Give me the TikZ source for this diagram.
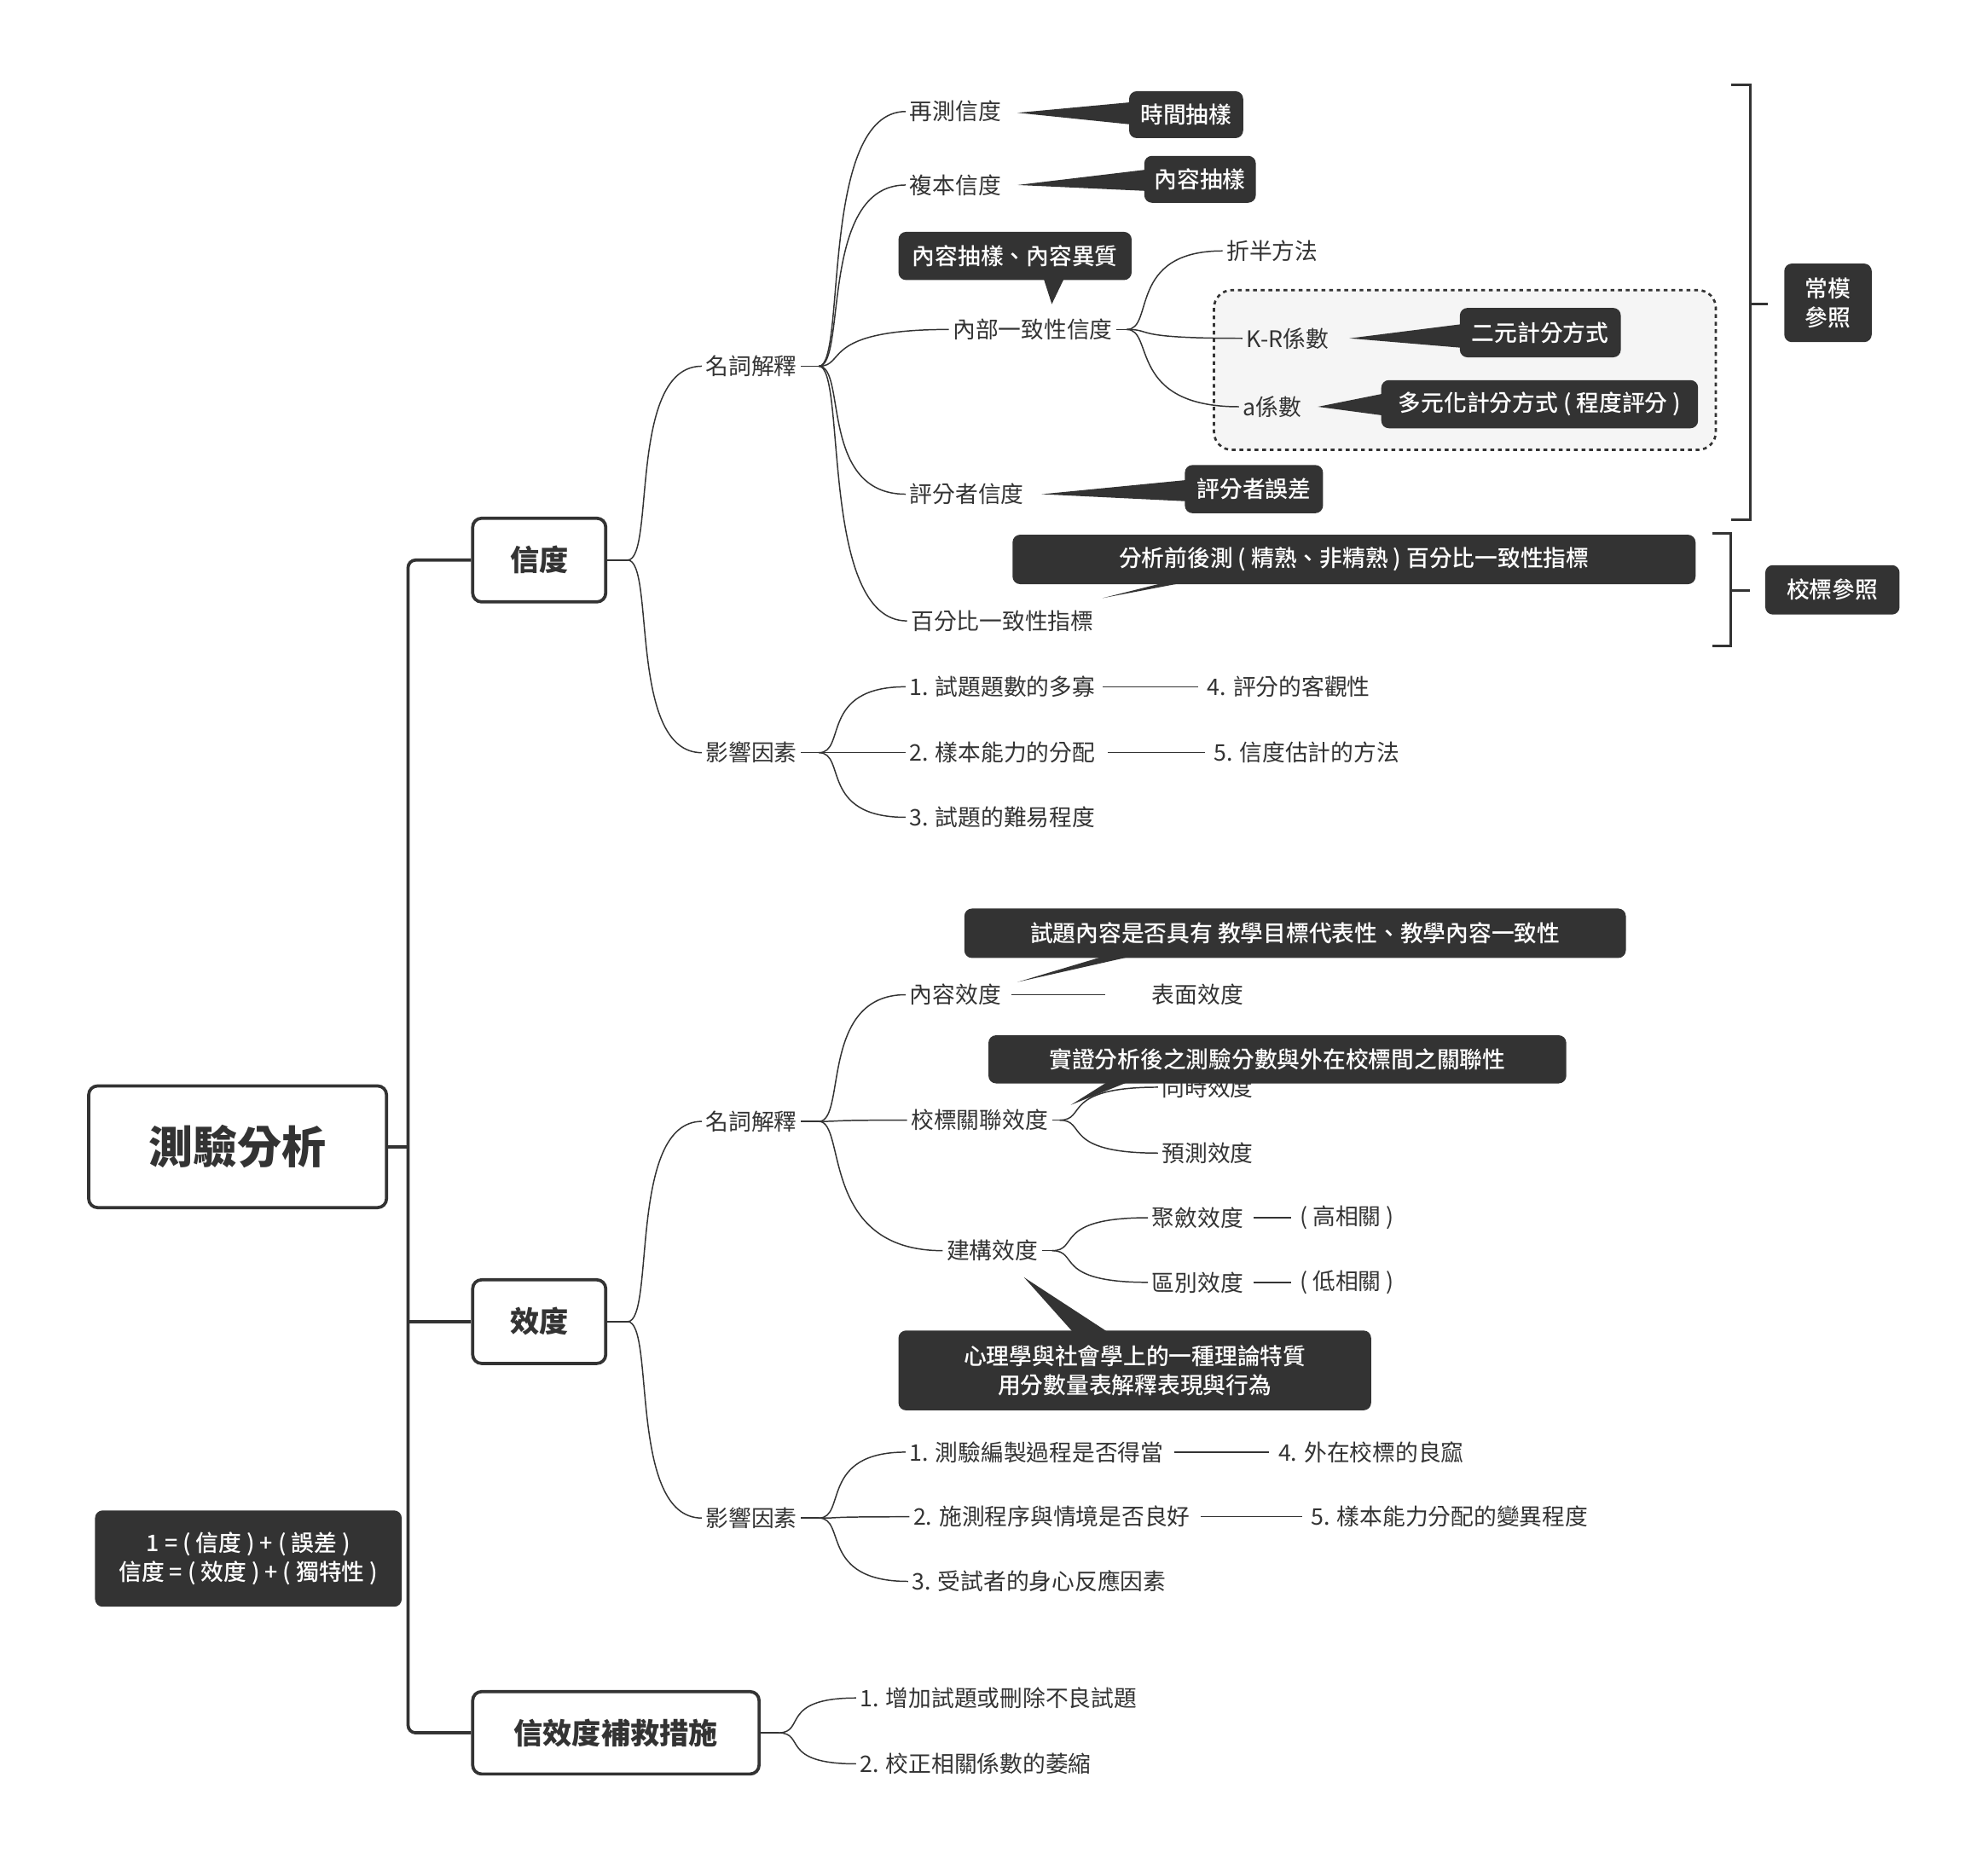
\documentclass[tikz,border=0pt]{standalone}
\usepackage{fontspec}
\setmainfont{Noto Sans CJK TC}
\newfontfamily\medfont{Noto Sans CJK TC Medium}
\usetikzlibrary{calc}
\definecolor{dk}{HTML}{333333}
\tikzset{
 x=1pt,y=-1pt,
 lbl/.style={font=\fontsize{18}{21}\selectfont,text=dk,inner xsep=3pt,anchor=center},
 tag/.style={fill=dk,text=white,rounded corners=6pt,font=\fontsize{18}{23}\selectfont\medfont,align=center,inner sep=0pt},
 main/.style={draw=dk,line width=2.5pt,rounded corners=7pt,font=\fontsize{23}{26}\selectfont\bfseries,text=dk,inner sep=0pt},
 con/.style={draw=dk,line width=1pt},
 trunk/.style={draw=dk,line width=2.5pt,rounded corners=6pt},
}
\newcommand{\cv}[2]{\draw[con] (#1) .. controls ($(#1)+(22,0)$) and ($(#1 |- #2)+(0,0)$) .. (#2);}
\newcommand{\tagbox}[6]{\node[tag,minimum width=#4-#2,minimum height=#5-#3] (#1) at ({(#2+#4)/2},{(#3+#5)/2}) {#6};}
\begin{document}
\begin{tikzpicture}
\useasboundingbox (0,0) rectangle (1568,1480);
% main nodes
\node[main,minimum width=235,minimum height=96,font=\fontsize{35}{40}\selectfont\bfseries] (root) at (187.5,905) {測驗分析};
\node[main,minimum width=105,minimum height=66] (xd) at (425.5,442) {信度};
\node[main,minimum width=105,minimum height=66] (vd) at (425.5,1043) {效度};
\node[main,minimum width=226,minimum height=65] (rm) at (486,1367.5) {信效度補救措施};
\draw[trunk] (root.east) -- (322,905);
\draw[trunk] (xd.west) -- (322,442) -- (322,1367.5) -- (rm.west);
\draw[trunk] (322,1043) -- (vd.west);
\tagbox{note}{75}{1192}{317}{1268}{1 = ( 信度 ) + ( 誤差 )\\信度 = ( 效度 ) + ( 獨特性 )}

% 信度
\node[lbl] (x1) at (593,289) {名詞解釋};
\node[lbl] (x2) at (593,594) {影響因素};
\coordinate (xs) at ($(xd.east)+(16,0)$);
\draw[con] (xd.east) -- (xs);
\cv{xs}{x1.west} \cv{xs}{x2.west}
\node[lbl] (a1) at (754,88) {再測信度};
\node[lbl] (a2) at (754,146) {複本信度};
\node[lbl] (a3) at (815,260) {內部一致性信度};
\node[lbl] (a4) at (763,390) {評分者信度};
\node[lbl] (a5) at (791,490) {百分比一致性指標};
\coordinate (x1s) at ($(x1.east)+(14,0)$);
\draw[con] (x1.east) -- (x1s);
\foreach \n in {a1,a2,a3,a4,a5}{\cv{x1s}{\n.west}}
\fill[dk] (803,89) -- (900,80) -- (900,99) -- cycle;
\tagbox{t1}{891}{72}{981}{109}{時間抽樣}
\fill[dk] (803,146) -- (912,133) -- (912,151) -- cycle;
\tagbox{t2}{903}{123}{991}{160}{內容抽樣}
\fill[dk] (822,215) -- (830,240) -- (842,215) -- cycle;
\tagbox{t3}{709}{183}{893}{221}{內容抽樣、內容異質}
\fill[dk] (822,390) -- (945,378) -- (945,396) -- cycle;
\tagbox{t4}{935}{367}{1044}{405}{評分者誤差}
\fill[dk] (870,472) -- (950,452) -- (975,452) -- cycle;
\tagbox{t5}{799}{422}{1338}{461}{分析前後測 ( 精熟、非精熟 ) 百分比一致性指標}
% 內部一致性 children
\draw[dk,line width=1.8pt,dashed,fill=black!4,rounded corners=14pt] (958,229) rectangle (1354,355);
\node[lbl] (b1) at (1004,198) {折半方法};
\node[lbl] (b2) at (1016,267) {K-R係數};
\node[lbl] (b3) at (1004,321) {a係數};
\coordinate (a3s) at ($(a3.east)+(8,0)$);
\draw[con] (a3.east) -- (a3s);
\foreach \n in {b1,b2,b3}{\cv{a3s}{\n.west}}
\fill[dk] (1065,267) -- (1160,255) -- (1160,275) -- cycle;
\tagbox{t6}{1152}{243}{1279}{282}{二元計分方式}
\fill[dk] (1040,321) -- (1100,309) -- (1100,329) -- cycle;
\tagbox{t7}{1090}{300}{1340}{338}{多元化計分方式 ( 程度評分 )}
% brackets
\draw[dk,line width=2pt] (1366,67) -- (1381,67) -- (1381,410) -- (1366,410) (1381,240) -- (1395,240);
\tagbox{t8}{1408}{208}{1477}{270}{常模\\參照}
\draw[dk,line width=2pt] (1351,421) -- (1366,421) -- (1366,510) -- (1351,510) (1366,466) -- (1381,466);
\tagbox{t9}{1393}{446}{1499}{485}{校標參照}
% 影響因素 信度
\node[lbl] (c1) at (791,542) {1. 試題題數的多寡};
\node[lbl] (c2) at (791,594) {2. 樣本能力的分配};
\node[lbl] (c3) at (791,645) {3. 試題的難易程度};
\coordinate (x2s) at ($(x2.east)+(14,0)$);
\draw[con] (x2.east) -- (x2s);
\foreach \n in {c1,c2,c3}{\cv{x2s}{\n.west}}
\node[lbl] (c4) at (1017,542) {4. 評分的客觀性};
\node[lbl] (c5) at (1031,594) {5. 信度估計的方法};
\draw[con] ($(c1.east)+(3,0)$) -- ($(c4.west)+(-4,0)$);
\draw[con] ($(c2.east)+(7,0)$) -- ($(c5.west)+(-4,0)$);

% 效度
\node[lbl] (y1) at (593,885) {名詞解釋};
\node[lbl] (y2) at (593,1198) {影響因素};
\coordinate (ys) at ($(vd.east)+(16,0)$);
\draw[con] (vd.east) -- (ys);
\cv{ys}{y1.west} \cv{ys}{y2.west}
\node[lbl] (d1) at (754,785) {內容效度};
\node[lbl] (d2) at (773,884) {校標關聯效度};
\node[lbl] (d3) at (783,987) {建構效度};
\coordinate (y1s) at ($(y1.east)+(14,0)$);
\draw[con] (y1.east) -- (y1s);
\foreach \n in {d1,d2,d3}{\cv{y1s}{\n.west}}
\node[lbl] (e1) at (945,785) {表面效度};
\draw[con] ($(d1.east)+(5,0)$) -- (872,785);
\fill[dk] (803,775) -- (880,752) -- (905,752) -- cycle;
\tagbox{t10}{761}{717}{1283}{756}{試題內容是否具有 教學目標代表性、教學內容一致性}
\node[lbl] (e2) at (953,858) {同時效度};
\node[lbl] (e3) at (953,910) {預測效度};
\coordinate (d2s) at ($(d2.east)+(6,0)$);
\draw[con] (d2.east) -- (d2s);
\cv{d2s}{e2.west} \cv{d2s}{e3.west}
\fill[dk] (845,872) -- (880,850) -- (900,850) -- cycle;
\tagbox{t11}{780}{817}{1236}{855}{實證分析後之測驗分數與外在校標間之關聯性}
\node[lbl] (e4) at (945,961) {聚斂效度};
\node[lbl] (e5) at (945,1012) {區別效度};
\coordinate (d3s) at ($(d3.east)+(8,0)$);
\draw[con] (d3.east) -- (d3s);
\cv{d3s}{e4.west} \cv{d3s}{e5.west}
\node[lbl] (f1) at (1063,961) {( 高相關 )};
\node[lbl] (f2) at (1063,1012) {( 低相關 )};
\draw[con] ($(e4.east)+(5,0)$) -- ($(f1.west)+(-4,0)$);
\draw[con] ($(e5.east)+(5,0)$) -- ($(f2.west)+(-4,0)$);
\fill[dk] (808,1008) -- (850,1055) -- (880,1055) -- cycle;
\tagbox{t12}{709}{1050}{1082}{1113}{心理學與社會學上的一種理論特質\\用分數量表解釋表現與行為}
% 影響因素 效度
\node[lbl] (g1) at (818,1146) {1. 測驗編製過程是否得當};
\node[lbl] (g2) at (830,1197) {2. 施測程序與情境是否良好};
\node[lbl] (g3) at (820,1248) {3. 受試者的身心反應因素};
\coordinate (y2s) at ($(y2.east)+(14,0)$);
\draw[con] (y2.east) -- (y2s);
\foreach \n in {g1,g2,g3}{\cv{y2s}{\n.west}}
\node[lbl] (g4) at (1082,1146) {4. 外在校標的良窳};
\node[lbl] (g5) at (1144,1197) {5. 樣本能力分配的變異程度};
\draw[con] ($(g1.east)+(5,0)$) -- ($(g4.west)+(-4,0)$);
\draw[con] ($(g2.east)+(5,0)$) -- ($(g5.west)+(-4,0)$);
% 補救
\node[lbl] (h1) at (788,1340) {1. 增加試題或刪除不良試題};
\node[lbl] (h2) at (770,1392) {2. 校正相關係數的萎縮};
\coordinate (rms) at ($(rm.east)+(14,0)$);
\draw[con] (rm.east) -- (rms);
\cv{rms}{h1.west} \cv{rms}{h2.west}
\end{tikzpicture}
\end{document}
